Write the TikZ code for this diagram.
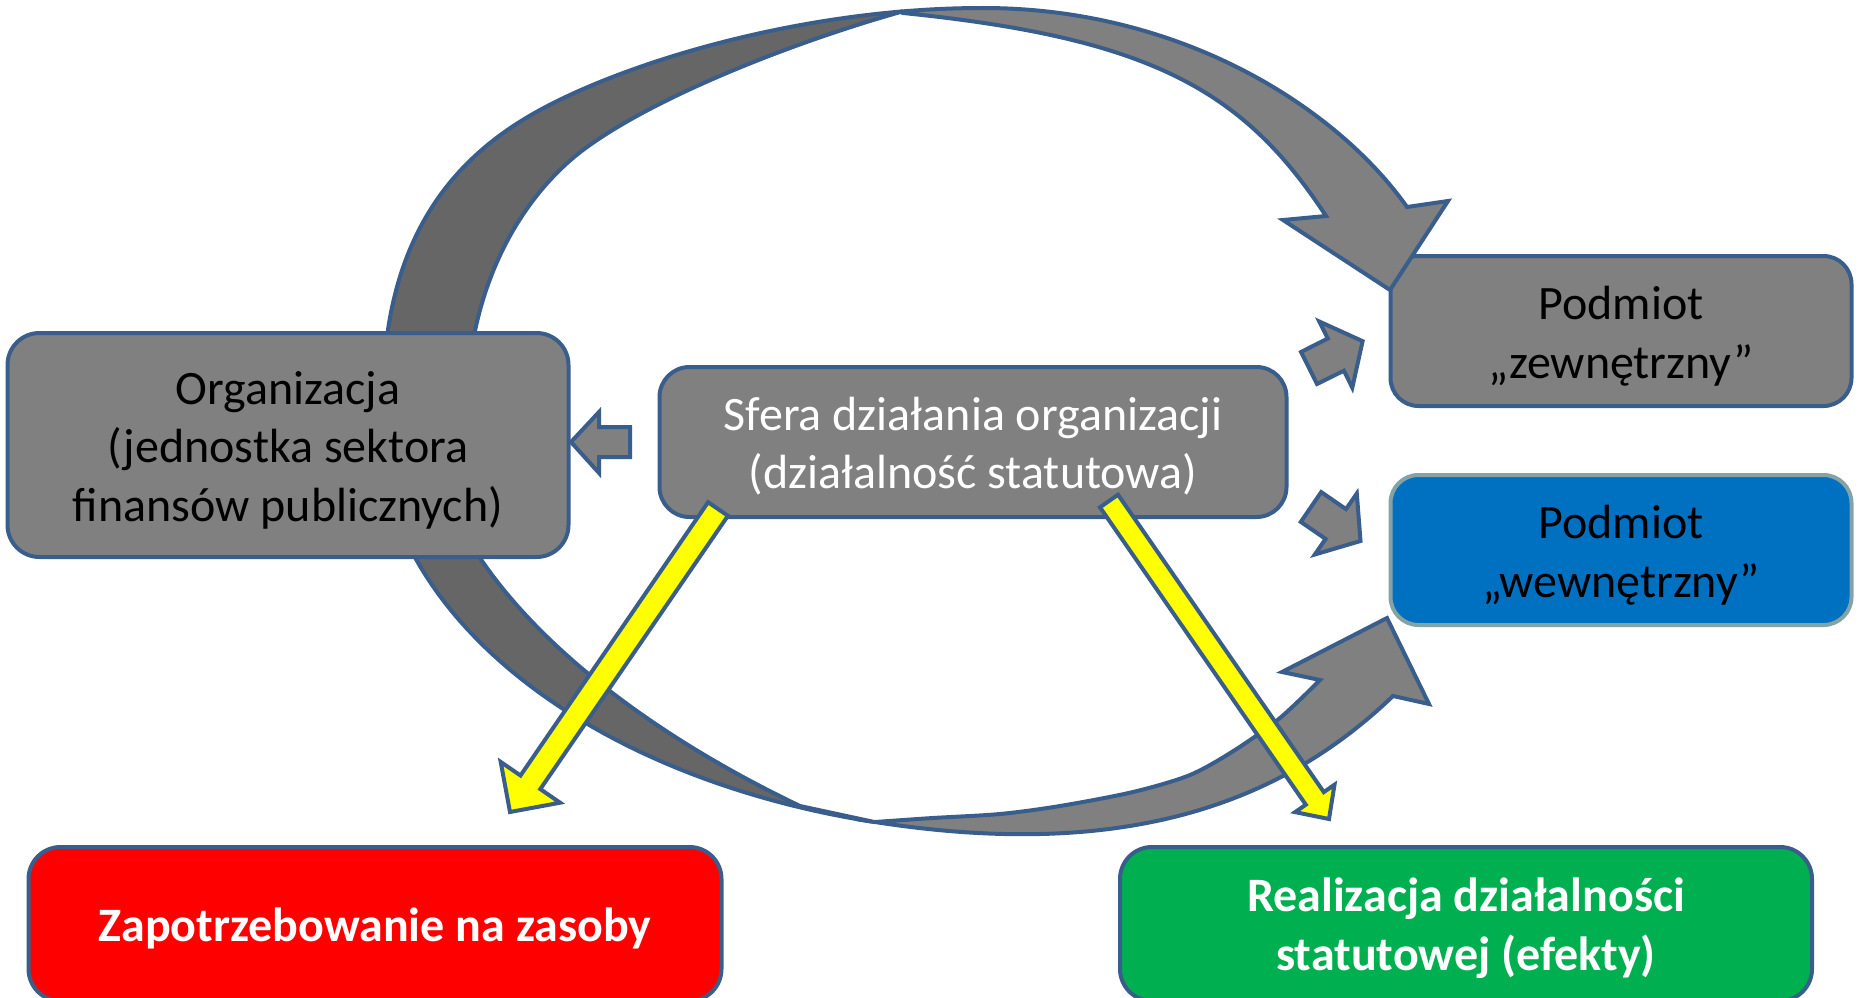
\documentclass[tikz,border=0pt]{standalone}
\usepackage{fontspec}
\setmainfont{Carlito}
\definecolor{edge}{RGB}{58,94,140}
\definecolor{boxgray}{RGB}{128,128,128}
\definecolor{ribdark}{RGB}{102,102,102}
\definecolor{intblue}{RGB}{0,112,192}
\definecolor{intedge}{RGB}{133,163,166}
\definecolor{resred}{RGB}{255,0,0}
\definecolor{resgreen}{RGB}{0,176,80}
\definecolor{arryellow}{RGB}{255,255,0}
\begin{document}
\begin{tikzpicture}[x=1pt,y=-1pt,
  box/.style={draw=edge, line width=4pt, rounded corners=32pt, inner sep=0pt},
  boxtext/.style={align=center, inner sep=0pt, font=\fontsize{48}{58.5}\selectfont},
  boldtext/.style={boxtext, text=white, font=\fontsize{48}{58.5}\selectfont\bfseries},
  ribbon/.style={draw=edge, line width=4pt, line join=miter, fill=boxgray},
  blockarrow/.style={draw=edge, line width=4pt, line join=miter, fill=boxgray},
  yarrow/.style={draw=edge, line width=4pt, line join=miter, fill=arryellow}]
\useasboundingbox (0,0) rectangle (1858,998);

% target boxes on the right (behind the big arrows)
\node[box, fill=boxgray, minimum width=461pt, minimum height=150pt, rounded corners=28pt] (zewn) at (1621,331) {};
\node[boxtext] (zewnt) at ([yshift=-5pt]zewn.center) {Podmiot\\„zewnętrzny”};
\node[box, fill=intblue, draw=intedge, minimum width=461pt, minimum height=150pt, rounded corners=28pt] (wewn) at (1621,550) {};
\node[boxtext] (wewnt) at ([yshift=-5pt]wewn.center) {Podmiot\\„wewnętrzny”};

% big curved arrow: top (dark back part, light front part with head)
\path[ribbon, fill=ribdark] (383,430) -- (383,400)
  .. controls (383,230) and (461,153) .. (540,110)
  .. controls (614.5,69.2) and (752.4,24.1) .. (902.6,11.4)
  .. controls (797,41) and (655,96) .. (583,150)
  .. controls (535,186) and (466,270) .. (466,420) -- (466,430) -- cycle;
\path[ribbon] (902.6,11.4) .. controls (929.1,9.2) and (956,8) .. (983,8)
  .. controls (1183,8) and (1337.8,109) .. (1407,207)
  -- (1448,201) -- (1390,290) -- (1283,220) -- (1326,216)
  .. controls (1243.5,90) and (1150.5,38) .. (903,13) -- cycle;

% big curved arrow: bottom
\path[ribbon, fill=ribdark] plot[domain=170:103.8, samples=50] ({1030+652*cos(\x)},{420+414*sin(\x)})
  -- (800,806) .. controls (656,737.2) and (541.6,649.3) .. (480,558) -- (470,470) -- cycle;
\path[ribbon] plot[smooth] coordinates {(875,822) (933,818) (1000,814) (1060,806) (1133,792) (1190,775) (1235,750) (1280,718) (1320,680)}
  -- (1282,672) -- (1387,618) -- (1429,704) -- (1393,696)
  .. controls (1285,799.5) and (1132,862) .. (875,822) -- cycle;

% main boxes
\node[box, fill=boxgray, minimum width=561pt, minimum height=224pt] (org) at (288,445) {};
\node[boxtext] (orgt) at ([yshift=-5pt]org.center) {Organizacja\\(jednostka sektora\\finansów publicznych)};
\node[box, fill=boxgray, minimum width=627pt, minimum height=150pt, rounded corners=30pt] (sfera) at (973,442) {};
\node[boxtext, text=white] (sferat) at ([yshift=-4pt]sfera.center) {Sfera działania organizacji\\(działalność statutowa)};

% small block arrows
\path[blockarrow] (571,442) -- (599,412) -- (599,427) -- (630,427) -- (630,457) -- (599,457) -- (599,473) -- cycle;
\path[blockarrow] (1301,352) -- (1327.8,338.5) -- (1319.3,321.5) -- (1362.6,341.2) -- (1352.3,387.7) -- (1343.9,370.7) -- (1317,384) -- cycle;
\path[blockarrow] (1321.2,492.1) -- (1346.0,509.1) -- (1356.8,493.5) -- (1360.5,541.0) -- (1314.8,554.5) -- (1325.6,538.9) -- (1300.8,521.9) -- cycle;

% yellow arrows
\path[yarrow] (708.1,502.2) -- (727.9,515.8) -- (540.3,789.1) -- (560.1,802.7) -- (510,812) -- (500.7,761.9) -- (520.5,775.5) -- cycle;
\path[yarrow] (1100,507.3) -- (1305.8,804.7) -- (1295.1,812.1) -- (1329,819) -- (1334.5,784.7) -- (1323.8,792.1) -- (1118,494.7) -- cycle;

% bottom boxes
\node[box, fill=resred, minimum width=693pt, minimum height=154pt] (zap) at (375,924) {};
\node[boldtext] (zapt) at ([yshift=-4pt]zap.center) {Zapotrzebowanie na zasoby};
\node[box, fill=resgreen, minimum width=692pt, minimum height=154pt] (real) at (1466,924) {};
\node[boldtext] (realt) at ([yshift=-4pt]real.center) {Realizacja działalności\\statutowej (efekty)};
\end{tikzpicture}
\end{document}
